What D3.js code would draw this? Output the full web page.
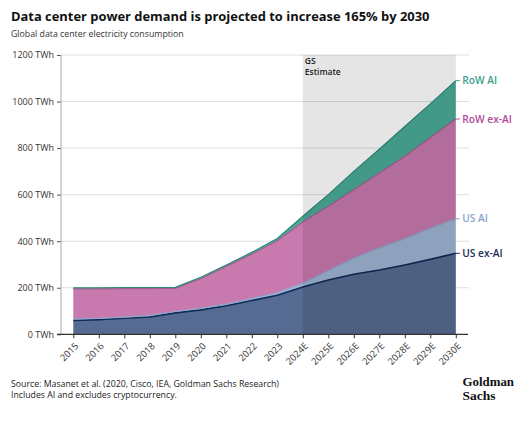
<!DOCTYPE html>
<html>
<head>
<meta charset="utf-8">
<script src="https://cdn.jsdelivr.net/npm/d3@7"></script>
<style>
  html, body { margin: 0; padding: 0; background: #fff; }
  svg { display: block; }
  text { font-family: "Open Sans", "Noto Sans", sans-serif; }
</style>
</head>
<body>
<svg id="chart" width="528" height="427"></svg>
<script>
// ---------- data ----------
const years = ["2015","2016","2017","2018","2019","2020","2021","2022","2023","2024E","2025E","2026E","2027E","2028E","2029E","2030E"];
const usExAI  = [60, 63, 69, 75, 92, 105, 123, 145, 168, 203, 233, 258, 276, 298, 322, 348];
const usAI    = [5, 5, 5, 5, 6, 6, 7, 8, 10, 16, 40, 69, 94, 112, 133, 148];
const rowExAI = [130, 127, 122, 116, 99, 128, 162, 191, 224, 263, 277, 294, 323, 355, 391, 429];
const rowAI   = [5, 5, 5, 5, 5, 6, 6, 8, 10, 25, 50, 79, 102, 128, 144, 165];
const seriesKeys   = ["usExAI", "usAI", "rowExAI", "rowAI"];
const seriesLabels = ["US ex-AI", "US AI", "RoW ex-AI", "RoW AI"];
const yTicks = [0, 200, 400, 600, 800, 1000, 1200];
const estimateStart = "2024E";

const fills   = { usExAI: "#566b91", usAI: "#9fb5d4", rowExAI: "#c87aae", rowAI: "#4bab97" };
const strokes = { usExAI: "#0f2a57", usAI: "#8ea8cd", rowExAI: "#a85c92", rowAI: "#2c8a76" };
const labelColors = { usExAI: "#1b2f56", usAI: "#8aa4cc", rowExAI: "#b3489a", rowAI: "#3a9e8a" };

const table = years.map((y, i) => ({ year: y, usExAI: usExAI[i], usAI: usAI[i], rowExAI: rowExAI[i], rowAI: rowAI[i] }));

// ---------- layout ----------
const svg = d3.select("#chart");
const x = d3.scalePoint().domain(years).range([73.3, 455.8]);
const y = d3.scaleLinear().domain([0, 1200]).range([334.3, 55]);
const axisX = 61, gridRight = 469;

function fitText(sel, target) {
  const node = sel.node();
  const fs = parseFloat(sel.attr("font-size"));
  const w = node.getComputedTextLength();
  sel.attr("font-size", (fs * target / w).toFixed(2));
}

// title
const title = svg.append("text").attr("x", 11).attr("y", 21).attr("font-size", 15)
  .attr("font-weight", 700).attr("fill", "#111")
  .text("Data center power demand is projected to increase 165% by 2030");
fitText(title, 419);
const sub = svg.append("text").attr("x", 11).attr("y", 37).attr("font-size", 9)
  .attr("fill", "#333").text("Global data center electricity consumption");
fitText(sub, 173);

// gridlines
svg.append("g").selectAll("line").data(yTicks.filter(d => d > 0)).join("line")
  .attr("x1", axisX).attr("x2", gridRight)
  .attr("y1", d => y(d)).attr("y2", d => y(d))
  .attr("stroke", "#dedede").attr("stroke-width", 1);

// stacked areas
const stack = d3.stack().keys(seriesKeys);
const layers = stack(table);
const area = d3.area().x(d => x(d.data.year)).y0(d => y(d[0])).y1(d => y(d[1]));
const topLine = d3.line().x(d => x(d.data.year)).y(d => y(d[1]));

const gAreas = svg.append("g");
layers.forEach(layer => {
  gAreas.append("path").attr("d", area(layer)).attr("fill", fills[layer.key]);
});
layers.forEach(layer => {
  gAreas.append("path").attr("d", topLine(layer)).attr("fill", "none")
    .attr("stroke", strokes[layer.key])
    .attr("stroke-width", layer.key === "usExAI" ? 1.6 : 1.2);
});

// estimate band overlay
const xs = x(estimateStart), xe = x(years[years.length - 1]);
svg.append("rect").attr("x", xs).attr("y", y(1200)).attr("width", xe - xs)
  .attr("height", y(0) - y(1200)).attr("fill", "#000").attr("fill-opacity", 0.1);
const gs = svg.append("text").attr("x", xs + 2).attr("font-size", 8.5).attr("font-weight", 600).attr("fill", "#222");
gs.append("tspan").attr("x", xs + 2).attr("y", 64).text("GS");
gs.append("tspan").attr("x", xs + 2).attr("y", 75).text("Estimate");

// y axis
const yAxis = d3.axisLeft(y).tickValues(yTicks).tickSize(4).tickPadding(3).tickFormat(d => d + " TWh");
const gy = svg.append("g").attr("transform", `translate(${axisX},0)`).call(yAxis);
gy.select(".domain").remove();
gy.selectAll(".tick line").attr("stroke", "#555");
gy.selectAll(".tick text").attr("font-size", 9).attr("fill", "#333")
  .style("font-family", '"Open Sans", sans-serif');
svg.append("line").attr("x1", axisX).attr("x2", axisX).attr("y1", y(1200)).attr("y2", y(0))
  .attr("stroke", "#a8a8a8");

// x axis
const xAxis = d3.axisBottom(x).tickSize(4).tickPadding(2);
const gx = svg.append("g").attr("transform", `translate(0,${y(0)})`).call(xAxis);
gx.select(".domain").remove();
gx.selectAll(".tick line").attr("stroke", "#333");
gx.selectAll(".tick text").attr("font-size", 9.4).attr("fill", "#333")
  .style("font-family", '"Open Sans", sans-serif')
  .attr("text-anchor", "end").attr("dy", "0.35em")
  .attr("transform", "translate(3,10) rotate(-45)").attr("y", 0).attr("x", 0);
svg.append("line").attr("x1", 57).attr("x2", 468).attr("y1", y(0)).attr("y2", y(0))
  .attr("stroke", "#333").attr("stroke-width", 1.2);

// series labels
const last = years.length - 1;
const gl = svg.append("g");
layers.forEach((layer, i) => {
  const yy = y(layer[last][1]);
  gl.append("line").attr("x1", xe).attr("x2", xe + 4).attr("y1", yy).attr("y2", yy)
    .attr("stroke", labelColors[layer.key]);
  gl.append("text").attr("x", xe + 6.5).attr("y", yy).attr("dy", "0.35em")
    .attr("font-size", 10.2).attr("font-weight", 600).attr("fill", labelColors[layer.key])
    .text(seriesLabels[i]);
});

// footer
const f1 = svg.append("text").attr("x", 11).attr("y", 387).attr("font-size", 9).attr("fill", "#222")
  .text("Source: Masanet et al. (2020, Cisco, IEA, Goldman Sachs Research)");
fitText(f1, 268);
const f2 = svg.append("text").attr("x", 11).attr("y", 398).attr("font-size", 9).attr("fill", "#222")
  .text("Includes AI and excludes cryptocurrency.");
fitText(f2, 166);

// logo
const logoFont = '"Liberation Serif", serif';
svg.append("text").attr("x", 462.5).attr("y", 386).attr("font-size", 12.3).attr("font-weight", 700)
  .attr("fill", "#111").style("font-family", logoFont)
  .attr("textLength", 51.5).attr("lengthAdjust", "spacingAndGlyphs").text("Goldman");
svg.append("text").attr("x", 462.5).attr("y", 399.8).attr("font-size", 12.3).attr("font-weight", 700)
  .attr("fill", "#111").style("font-family", logoFont)
  .attr("textLength", 33).attr("lengthAdjust", "spacingAndGlyphs").text("Sachs");
</script>
</body>
</html>
